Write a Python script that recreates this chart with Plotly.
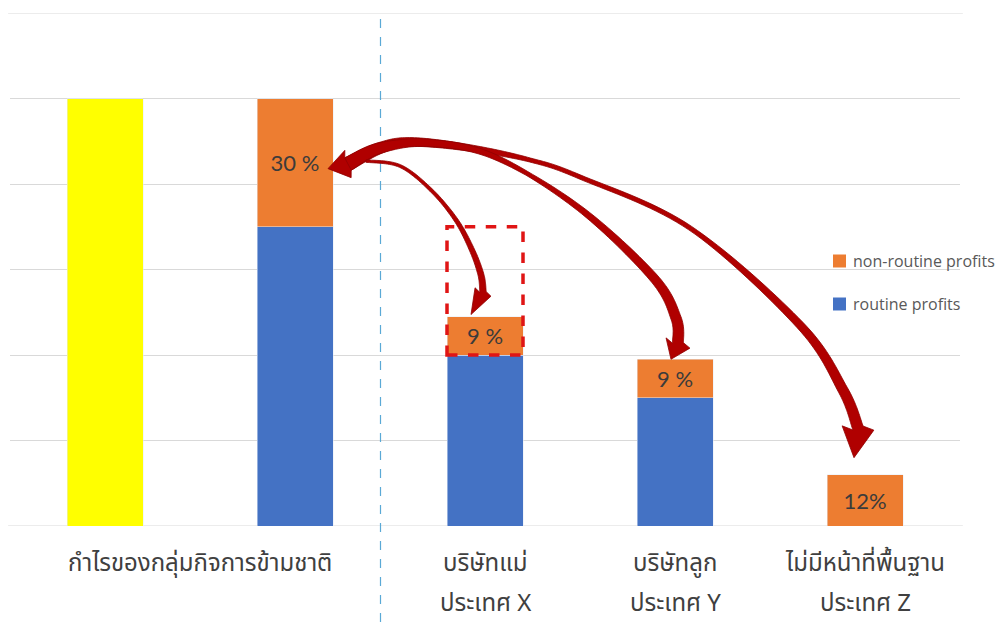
import numpy as np
import plotly.graph_objects as go

# ---- data -------------------------------------------------------------
positions = [0, 1, 2, 3, 4]
group_total = [100, None, None, None, None]
routine = [None, 70, 40, 30, None]
non_routine = [None, 30, 9, 9, 12]
non_routine_text = ["", "30 %", "9 %", "9 %", "12%"]

label_x = [0.5, 2, 3, 4]
label_line1 = ["กำไรของกลุ่มกิจการข้ามชาติ", "บริษัทแม่", "บริษัทลูก", "ไม่มีหน้าที่พื้นฐาน"]
label_line2 = ["", "ประเทศ X", "ประเทศ Y", "ประเทศ Z"]

legend_names = ["non-routine profits", "routine profits"]

# ---- layout geometry ---------------------------------------------------
W, H = 1006, 622
ML, MR, MT, MB = 10, 46, 13, 96
X_RANGE = (-0.5, 4.5)
Y_RANGE = (0, 120)
GRID_STEP = 20
PX_X = (W - ML - MR) / (X_RANGE[1] - X_RANGE[0])
PX_Y = (H - MT - MB) / (Y_RANGE[1] - Y_RANGE[0])
BAR_W = 0.4

YELLOW, ORANGE, BLUE = "#ffff00", "#ed7d31", "#4472c4"
ARROW_RED = "#b00000"
GRID = "#d9d9d9"
THAI_FONT = "Noto Sans Thai, Noto Sans, sans-serif"


def xpx(x):
    return ML + (x - X_RANGE[0]) * PX_X


def ypx(y):
    return MT + (Y_RANGE[1] - y) * PX_Y


def to_data(p):
    return (p[0] - ML) / PX_X + X_RANGE[0], Y_RANGE[1] - (p[1] - MT) / PX_Y


def smooth(pts, n=18):
    P = np.array(pts, float)
    out = []
    for i in range(len(P) - 1):
        p0 = P[max(i - 1, 0)]
        p1, p2 = P[i], P[i + 1]
        p3 = P[min(i + 2, len(P) - 1)]
        for t in np.linspace(0, 1, n, endpoint=False):
            t2, t3 = t * t, t * t * t
            out.append(0.5 * (2 * p1 + (-p0 + p2) * t
                              + (2 * p0 - 5 * p1 + 4 * p2 - p3) * t2
                              + (-p0 + 3 * p1 - 3 * p2 + p3) * t3))
    out.append(P[-1])
    return np.array(out)


def perp(v):
    v = np.asarray(v, float)
    v = v / np.hypot(*v)
    return np.array([-v[1], v[0]])


def arrow_path(way, ws, ww, tip, head_hw, tail_tip=None, tail_hw=0):
    """Tapered curved arrow in pixel space, returned as an SVG path in data units."""
    C = smooth(way)
    seg = np.hypot(*np.diff(C, axis=0).T)
    s = np.r_[0, np.cumsum(seg)]
    s = s / s[-1]
    w = np.interp(s, ws, ww)
    tang = np.gradient(C, axis=0)
    tang = tang / np.hypot(tang[:, 0], tang[:, 1])[:, None]
    nrm = np.stack([-tang[:, 1], tang[:, 0]], axis=1)
    left = C + nrm * (w[:, None] / 2)
    right = C - nrm * (w[:, None] / 2)
    tip = np.array(tip, float)
    base = C[-1]
    nh = perp(tip - base)
    poly = list(left) + [base + nh * head_hw, tip, base - nh * head_hw] + list(right[::-1])
    if tail_tip is not None:
        tail_tip = np.array(tail_tip, float)
        nt = perp(tail_tip - C[0])
        poly += [C[0] + nt * tail_hw, tail_tip, C[0] - nt * tail_hw]
    pts = [to_data(p) for p in poly]
    return "M " + " L ".join(f"{x:.4f},{y:.3f}" for x, y in pts) + " Z"


fig = go.Figure()

fig.add_trace(go.Bar(x=positions, y=group_total, marker_color=YELLOW, width=BAR_W,
                     showlegend=False, hoverinfo="skip"))
fig.add_trace(go.Bar(x=positions, y=routine, marker_color=BLUE, width=BAR_W,
                     name=legend_names[1], showlegend=False))
fig.add_trace(go.Bar(x=positions, y=non_routine, marker_color=ORANGE, width=BAR_W,
                     name=legend_names[0], showlegend=False,
                     text=non_routine_text, textposition="inside",
                     insidetextanchor="middle", textangle=0,
                     textfont=dict(family="Lato, sans-serif", size=22, color="#3b3b3b")))

shapes = []

# gridlines at the two ends of the value range
for yv in Y_RANGE:
    shapes.append(dict(type="line", xref="paper", yref="y", x0=-0.002, x1=1.003,
                       y0=yv, y1=yv, layer="below", line=dict(color=GRID, width=1)))

# dashed divider between the group total and the entities
shapes.append(dict(type="line", xref="x", yref="paper", x0=1.45, x1=1.45,
                   y0=-MB / (H - MT - MB), y1=1.0,
                   line=dict(color="#5aa9d6", width=1.2, dash="dash")))

# dashed frame marking the share moved to country X
shapes.append(dict(type="rect", xref="x", yref="y",
                   x0=2 - BAR_W / 2, x1=2 + BAR_W / 2,
                   y0=routine[2], y1=routine[1],
                   line=dict(color="#e01515", width=3.5, dash="dash")))

# allocation arrows from the 30 % non-routine share
src_y = routine[1] + non_routine[1] / 2
tail_tip = (xpx(1 + BAR_W / 2) - 5, ypx(src_y) + 6)
top_x = routine[2] + non_routine[2]
top_y = routine[3] + non_routine[3]
top_z = non_routine[4]

arrow_z = arrow_path(
    [(348, 164), (380, 148), (412, 142), (470, 148), (530, 160), (580, 177),
     (690, 228), (800, 325), (843, 390), (858, 428)],
    [0, 0.1, 0.3, 0.6, 1.0], [14, 9, 4, 4.5, 11],
    (xpx(4) - 11, ypx(top_z) - 17), 16, tail_tip=tail_tip, tail_hw=14)
arrow_y = arrow_path(
    [(348, 164), (380, 148), (430, 143), (495, 157), (579, 208), (653, 277),
     (676, 318), (678, 343)],
    [0, 0.15, 0.45, 1.0], [14, 8, 4, 11],
    (xpx(3) - 4, ypx(top_y)), 13)
arrow_x = arrow_path(
    [(366, 161), (400, 166), (431, 190), (456, 220), (472, 250), (481, 275), (483, 292)],
    [0, 0.5, 1.0], [2.5, 3.5, 6.5],
    (xpx(2) - 14, ypx(top_x) - 2), 9)

for p in (arrow_z, arrow_y, arrow_x):
    shapes.append(dict(type="path", xref="x", yref="y", path=p,
                       fillcolor=ARROW_RED, line=dict(color="#8f0000", width=0.8)))

# legend swatches
legend_colors = [ORANGE, BLUE]
legend_y_px = [261, 304]
ph = H - MT - MB
pw = W - ML - MR
annotations = []
for name, col, yy in zip(legend_names, legend_colors, legend_y_px):
    x0 = (833 - ML) / pw
    x1 = (846 - ML) / pw
    y0 = 1 - (yy + 6.5 - MT) / ph
    y1 = 1 - (yy - 6.5 - MT) / ph
    shapes.append(dict(type="rect", xref="paper", yref="paper", x0=x0, x1=x1, y0=y0, y1=y1,
                       fillcolor=col, line=dict(width=0)))
    annotations.append(dict(xref="paper", yref="paper", x=(851 - ML) / pw,
                            y=1 - (yy - MT) / ph, text=name, showarrow=False,
                            xanchor="left", yanchor="middle",
                            font=dict(family="Open Sans, sans-serif", size=16, color="#595959")))

# category labels (two lines)
for xv, l1, l2 in zip(label_x, label_line1, label_line2):
    annotations.append(dict(xref="x", yref="paper", x=xv, y=1 - (564 - MT) / ph,
                            text=l1, showarrow=False, xanchor="center", yanchor="middle",
                            font=dict(family=THAI_FONT, size=24, color="#404040")))
    if l2:
        annotations.append(dict(xref="x", yref="paper", x=xv, y=1 - (604 - MT) / ph,
                                text=l2, showarrow=False, xanchor="center", yanchor="middle",
                                font=dict(family=THAI_FONT, size=24, color="#404040")))

fig.update_layout(
    width=W, height=H,
    margin=dict(l=ML, r=MR, t=MT, b=MB),
    barmode="stack",
    paper_bgcolor="white", plot_bgcolor="white",
    shapes=shapes, annotations=annotations,
    xaxis=dict(range=list(X_RANGE), showgrid=False, zeroline=False,
               showticklabels=False, ticks="", fixedrange=True),
    yaxis=dict(range=list(Y_RANGE), dtick=GRID_STEP, showgrid=True, gridcolor=GRID,
               gridwidth=1, zeroline=False, showticklabels=False, ticks="",
               fixedrange=True),
    showlegend=False,
)

fig.write_html("out.html")
